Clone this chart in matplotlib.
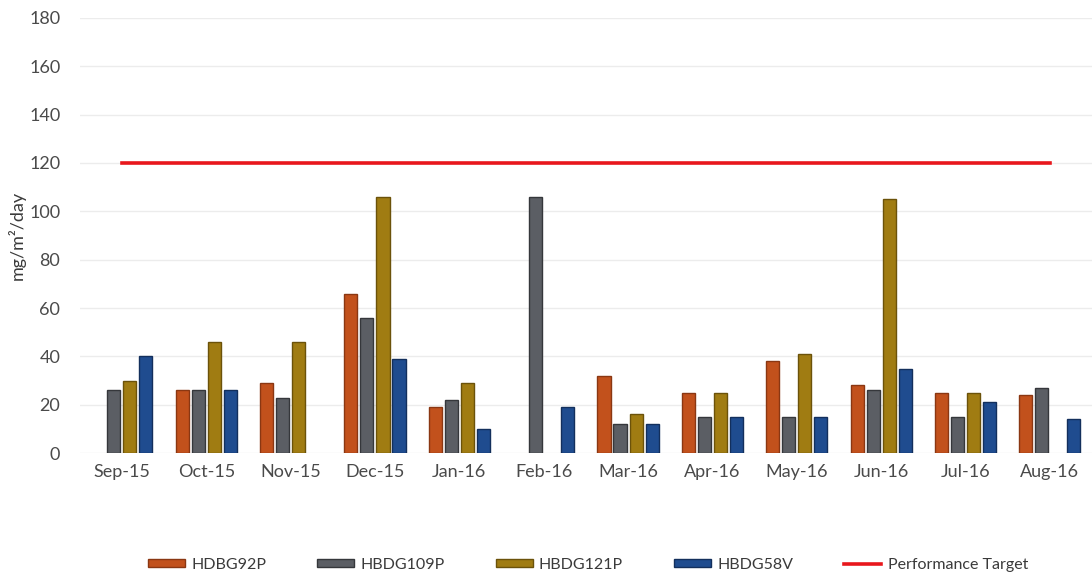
import numpy as np
import matplotlib
matplotlib.use("Agg")
import matplotlib.pyplot as plt

months = ["Sep-15", "Oct-15", "Nov-15", "Dec-15", "Jan-16", "Feb-16",
          "Mar-16", "Apr-16", "May-16", "Jun-16", "Jul-16", "Aug-16"]
hdbg92p = [np.nan, 26, 29, 66, 19, np.nan, 32, 25, 38, 28, 25, 24]
hbdg109p = [26, 26, 23, 56, 22, 106, 12, 15, 15, 26, 15, 27]
hbdg121p = [30, 46, 46, 106, 29, np.nan, 16, 25, 41, 105, 25, np.nan]
hbdg58v = [40, 26, np.nan, 39, 10, 19, 12, 15, 15, 35, 21, 14]
target = 120

series = [
    ("HDBG92P", hdbg92p, "#C2511C", "#8A3712"),
    ("HBDG109P", hbdg109p, "#5B5E64", "#35373B"),
    ("HBDG121P", hbdg121p, "#A07C12", "#6B520A"),
    ("HBDG58V", hbdg58v, "#1F4C8F", "#132F5C"),
]

plt.rcParams['font.family'] = ['Lato', 'DejaVu Sans']

fig = plt.figure(figsize=(10.92, 5.78), dpi=100)
ax = fig.add_axes([0.073, 0.216, 0.927, 0.753])

x = np.arange(len(months))
pitch = 0.19
width = 0.155
handles = []
for i, (name, vals, face, edge) in enumerate(series):
    h = ax.bar(x + (i - 1.5) * pitch, vals, width, color=face, edgecolor=edge,
               linewidth=1.0, label=name, zorder=3)
    handles.append(h)

line, = ax.plot([x[0], x[-1]], [target, target], color="#E8171C", lw=2.6,
                label="Performance Target", zorder=4)
handles.append(line)

ax.set_xlim(-0.5, len(months) - 0.5)
ax.set_ylim(0, 180)
ax.set_yticks(range(0, 181, 20))
ax.set_xticks(x)
ax.set_xticklabels(months)
ax.tick_params(axis="both", length=0, labelsize=13, colors="#4A4A4A")
ax.tick_params(axis="y", pad=14)
ax.tick_params(axis="x", pad=8)
ax.grid(axis="y", color="#ECECEC", lw=1, zorder=0)
for s in ax.spines.values():
    s.set_visible(False)
ax.set_ylabel("mg/m²/day", fontsize=13, color="#3A3A3A", labelpad=2)

fig.legend(handles=handles, loc="center",
           bbox_to_anchor=(588 / 1092, 1 - 565 / 578), ncol=5,
           frameon=False, fontsize=11.5, handlelength=2.3, handleheight=0.4,
           columnspacing=3.2, handletextpad=0.4, labelcolor="#3A3A3A")

fig.savefig("out.png", dpi=100, facecolor="white")
